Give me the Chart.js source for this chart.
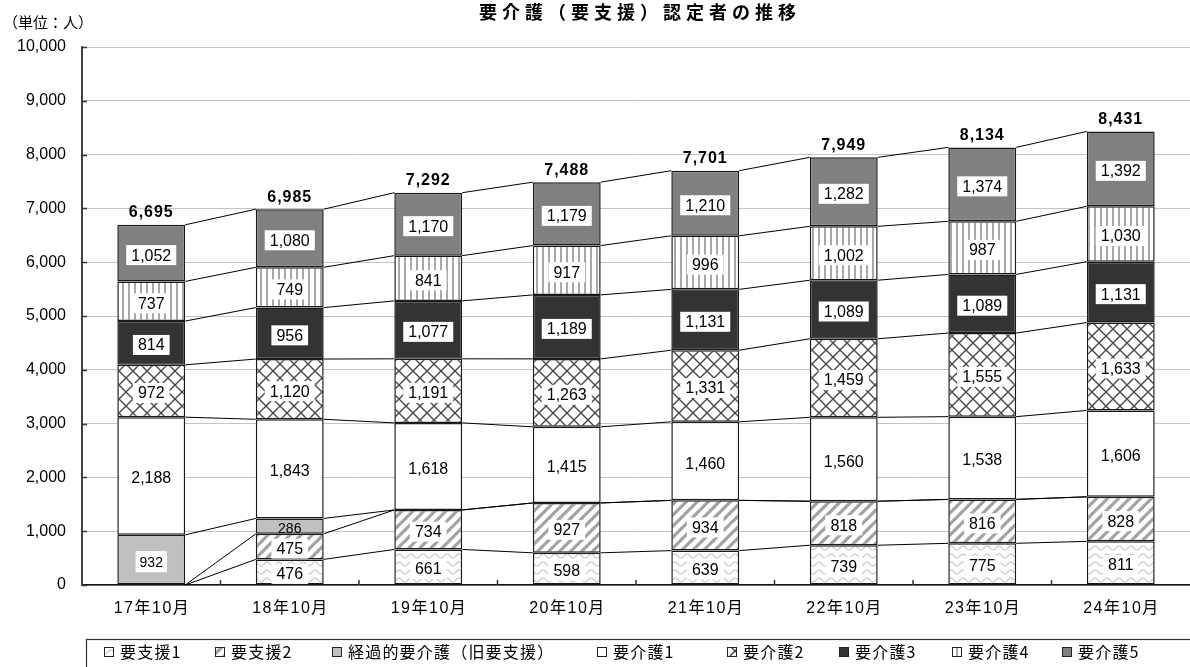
<!DOCTYPE html>
<html><head><meta charset="utf-8">
<script src="https://cdn.jsdelivr.net/npm/chart.js@4/dist/chart.umd.min.js"></script>
<style>html,body{margin:0;padding:0;background:#fff;}#wrap{width:1190px;height:667px;position:relative;}</style>
</head><body><div id="wrap"><canvas id="c" width="1190" height="667"></canvas></div>
<script>
// 年度（各年10月時点）
const categories = ['17年10月', '18年10月', '19年10月', '20年10月', '21年10月', '22年10月', '23年10月', '24年10月'];
// 区分別の認定者数（人）
const shien1   = [0, 476, 661, 598, 639, 739, 775, 811];
const shien2   = [0, 475, 734, 927, 934, 818, 816, 828];
const keikaBun = [932, 286, 0, 0, 0, 0, 0, 0];
const kaigo1   = [2188, 1843, 1618, 1415, 1460, 1560, 1538, 1606];
const kaigo2   = [972, 1120, 1191, 1263, 1331, 1459, 1555, 1633];
const kaigo3   = [814, 956, 1077, 1189, 1131, 1089, 1089, 1131];
const kaigo4   = [737, 749, 841, 917, 996, 1002, 987, 1030];
const kaigo5   = [1052, 1080, 1170, 1179, 1210, 1282, 1374, 1392];
const seriesNames = ['要支援1', '要支援2', '経過的要介護（旧要支援）', '要介護1', '要介護2', '要介護3', '要介護4', '要介護5'];
// 縦軸
const yMin = 0, yMax = 10000, yStep = 1000;

const NUM_FONT = '"Liberation Sans", "Noto Sans CJK JP", Arial, sans-serif';
const JP_FONT = '"Noto Sans CJK JP", "Liberation Sans", sans-serif';

const canvas = document.getElementById('c');
const mainCtx = canvas.getContext('2d');

function makePattern(w, h, draw) {
  const c = document.createElement('canvas');
  c.width = w; c.height = h;
  const g = c.getContext('2d');
  g.fillStyle = '#fff';
  g.fillRect(0, 0, w, h);
  draw(g, w, h);
  return mainCtx.createPattern(c, 'repeat');
}

const wavePattern = makePattern(12, 8, (g) => {
  g.strokeStyle = '#c8c8c8'; g.lineWidth = 1.2;
  g.beginPath();
  for (let x = -1; x <= 13; x += 0.5) {
    const y = 4 - 2 * Math.sin(x / 12 * 2 * Math.PI);
    if (x === -1) g.moveTo(x, y); else g.lineTo(x, y);
  }
  g.stroke();
});
const slashPattern = makePattern(11, 11, (g) => {
  g.strokeStyle = '#a3a3a3'; g.lineWidth = 3.2;
  for (const o of [-11, 0, 11]) {
    g.beginPath(); g.moveTo(o - 1, 12); g.lineTo(o + 12, -1); g.stroke();
  }
});
const diamondPattern = makePattern(14, 14, (g) => {
  g.strokeStyle = '#4a4a4a'; g.lineWidth = 1.4;
  for (const o of [-14, 0, 14]) {
    g.beginPath(); g.moveTo(o - 1, -1); g.lineTo(o + 15, 15); g.stroke();
    g.beginPath(); g.moveTo(o + 15, -1); g.lineTo(o - 1, 15); g.stroke();
  }
});
const stripePattern = makePattern(6, 6, (g) => {
  g.fillStyle = '#a8a8a8';
  g.fillRect(2, 0, 2, 6);
});

const seriesValues = [shien1, shien2, keikaBun, kaigo1, kaigo2, kaigo3, kaigo4, kaigo5];
const seriesFills = [wavePattern, slashPattern, '#c0c0c0', '#ffffff', diamondPattern, '#333333', stripePattern, '#808080'];

const datasets = seriesValues.map((vals, i) => ({
  label: seriesNames[i],
  data: vals,
  backgroundColor: seriesFills[i],
  borderColor: '#1a1a1a',
  borderWidth: 1.5,
  borderSkipped: false,
  barPercentage: 0.49,
  categoryPercentage: 1.0,
  stack: 'all'
}));

const fmt = (v) => v.toLocaleString('en-US');

// 区分の上端同士を結ぶ線
const seriesLinePlugin = {
  id: 'seriesLines',
  afterDatasetsDraw(chart) {
    const ctx = chart.ctx;
    ctx.save();
    ctx.strokeStyle = '#000';
    ctx.lineWidth = 1;
    chart.data.datasets.forEach((ds, di) => {
      const els = chart.getDatasetMeta(di).data;
      for (let i = 0; i < els.length - 1; i++) {
        const a = els[i], b = els[i + 1];
        ctx.beginPath();
        ctx.moveTo(a.x + a.width / 2, a.y);
        ctx.lineTo(b.x - b.width / 2, b.y);
        ctx.stroke();
      }
    });
    ctx.restore();
  }
};

// 数値ラベルと合計
const valueLabelPlugin = {
  id: 'valueLabels',
  afterDatasetsDraw(chart) {
    const ctx = chart.ctx;
    ctx.save();
    ctx.textAlign = 'center';
    ctx.textBaseline = 'middle';
    chart.data.datasets.forEach((ds, di) => {
      const els = chart.getDatasetMeta(di).data;
      els.forEach((el, i) => {
        const v = ds.data[i];
        if (!v) return;
        const small = di === 2;
        ctx.font = (small ? '14px ' : '16px ') + NUM_FONT;
        const txt = fmt(v);
        const tw = ctx.measureText(txt).width;
        const cy = (el.y + el.base) / 2 + 2;
        const h = Math.abs(el.base - el.y);
        if (h > 20) {
          const bw = tw + (small ? 8 : 10), bh = small ? 21 : 20;
          ctx.fillStyle = '#fff';
          ctx.fillRect(el.x - bw / 2, cy - bh / 2, bw, bh);
        }
        ctx.fillStyle = '#000';
        ctx.fillText(txt, el.x, cy + 1);
      });
    });
    // 合計
    const last = chart.getDatasetMeta(chart.data.datasets.length - 1).data;
    ctx.font = 'bold 16px ' + NUM_FONT;
    ctx.letterSpacing = '1px';
    ctx.fillStyle = '#000';
    last.forEach((el, i) => {
      const total = seriesValues.reduce((s, arr) => s + arr[i], 0);
      ctx.fillText(fmt(total), el.x, el.y - 12);
    });
    ctx.restore();
  }
};

// 軸の内向き目盛り・横軸ラベル・タイトル・凡例
const decorPlugin = {
  id: 'decor',
  afterDraw(chart) {
    const ctx = chart.ctx;
    const x = chart.scales.x, y = chart.scales.y;
    const area = chart.chartArea;
    ctx.save();
    // 目盛り
    ctx.strokeStyle = '#333'; ctx.lineWidth = 1.5;
    for (let v = yMin; v <= yMax; v += yStep) {
      const py = Math.round(y.getPixelForValue(v)) + 0.5;
      ctx.beginPath(); ctx.moveTo(area.left, py); ctx.lineTo(area.left + 5, py); ctx.stroke();
    }
    for (let i = 1; i < categories.length; i++) {
      const px = (x.getPixelForValue(i - 1) + x.getPixelForValue(i)) / 2;
      ctx.beginPath(); ctx.moveTo(px, area.bottom); ctx.lineTo(px, area.bottom - 5); ctx.stroke();
    }
    // 横軸ラベル
    ctx.fillStyle = '#000';
    ctx.textBaseline = 'middle';
    ctx.textAlign = 'center';
    ctx.font = '16px ' + NUM_FONT;
    ctx.letterSpacing = '1.5px';
    categories.forEach((c, i) => {
      ctx.fillText(c, x.getPixelForValue(i) + 0.75, area.bottom + 24);
    });
    // タイトル
    ctx.font = 'bold 18px ' + JP_FONT;
    ctx.letterSpacing = '5px';
    ctx.fillText('要介護（要支援）認定者の推移', 640, 12);
    ctx.textAlign = 'left';
    ctx.font = '15px ' + JP_FONT;
    ctx.letterSpacing = '0px';
    ctx.fillText('（単位：人）', 3, 22);
    // 凡例
    ctx.strokeStyle = '#333'; ctx.lineWidth = 1.2;
    ctx.strokeRect(86.5, 639.5, 1110, 40);
    const itemX = [104, 215, 332, 597, 727, 839, 952, 1062];
    ctx.font = '16px ' + JP_FONT;
    ctx.letterSpacing = '1.2px';
    seriesNames.forEach((name, i) => {
      const sx = itemX[i], sy = 647;
      ctx.fillStyle = seriesFills[i];
      ctx.fillRect(sx, sy, 10, 10);
      ctx.strokeStyle = '#222'; ctx.lineWidth = 1;
      ctx.strokeRect(sx + 0.5, sy + 0.5, 9, 9);
      ctx.fillStyle = '#000';
      ctx.fillText(name, sx + 16, 652);
    });
    ctx.restore();
  }
};

new Chart(canvas, {
  type: 'bar',
  data: { labels: categories, datasets },
  options: {
    responsive: false,
    animation: false,
    devicePixelRatio: 1,
    layout: { padding: { top: 47, left: 0, right: 0, bottom: 0 } },
    plugins: { legend: { display: false }, title: { display: false }, tooltip: { enabled: false } },
    scales: {
      x: {
        stacked: true,
        offset: true,
        grid: { display: false },
        border: { display: true, color: '#111', width: 1.5 },
        ticks: { display: false },
        afterFit(s) { s.height = 82; }
      },
      y: {
        stacked: true,
        min: yMin, max: yMax,
        grid: { color: '#c4c4c4', lineWidth: 1, drawTicks: false },
        border: { display: true, color: '#444', width: 2 },
        ticks: { stepSize: yStep, color: '#000', padding: 16, font: { family: NUM_FONT, size: 16 },
                 callback: (v) => fmt(v) },
        afterFit(s) { s.width = 82; }
      }
    }
  },
  plugins: [seriesLinePlugin, valueLabelPlugin, decorPlugin]
});
</script>
</body></html>
